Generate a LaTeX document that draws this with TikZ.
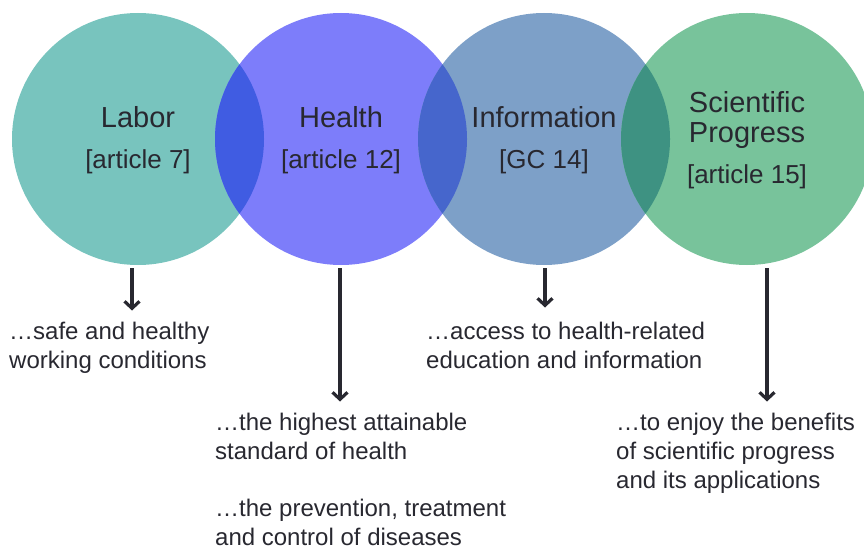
\documentclass[tikz,border=0pt]{standalone}
\usepackage{fontspec}
\setmainfont{Liberation Sans}
\usetikzlibrary{arrows.meta}

\definecolor{ink}{RGB}{40,40,48}
\definecolor{labor}{RGB}{120,196,190}
\definecolor{health}{RGB}{125,125,250}
\definecolor{info}{RGB}{125,160,200}
\definecolor{science}{RGB}{120,195,155}
\definecolor{laborhealth}{RGB}{64,92,226}
\definecolor{healthinfo}{RGB}{70,102,204}
\definecolor{infoscience}{RGB}{62,146,130}

\newcommand{\lens}[3] % left centre x, right centre x, colour of the overlap
{
	% clip to the left circle, fill the right one
	\begin{scope}
		\clip (#1,139) circle (126pt);
		\fill[#3] (#2,139) circle (126pt);
	\end{scope}
}

\begin{document}
\begin{tikzpicture}[x=1pt, y=-1pt,
	ring/.style={circle, minimum size=252pt, inner sep=0pt},
	head/.style={anchor=base, text=ink, font=\fontsize{29}{30}\selectfont},
	ref/.style={anchor=base, text=ink, font=\fontsize{26}{28}\selectfont},
	note/.style={anchor=north west, align=left, inner sep=0pt, text=ink, font=\fontsize{24}{29}\selectfont},
	arr/.style={draw=ink, line width=3.2pt, -{Straight Barb[length=7pt,width=15pt]}}]
	% page 864 x 548
	\useasboundingbox (0,0) rectangle (864,548);

	% the four rights
	\node[ring, fill=labor] (labor) at (138,139) {};
	\node[ring, fill=health] (health) at (341,139) {};
	\node[ring, fill=info] (info) at (544,139) {};
	\node[ring, fill=science] (science) at (747,139) {};

	\lens{138}{341}{laborhealth}
	\lens{341}{544}{healthinfo}
	\lens{544}{747}{infoscience}

	% names and references
	\node[head] (labor-t) at (138,128) {Labor};
	\node[ref] (labor-r) at (138,168) {[article 7]};
	\node[head] (health-t) at (341,128) {Health};
	\node[ref] (health-r) at (341,168) {[article 12]};
	\node[head] (info-t) at (544,128) {Information};
	\node[ref] (info-r) at (544,168) {[GC 14]};
	\node[head] (science-t1) at (747,113) {Scientific};
	\node[head] (science-t2) at (747,143) {Progress};
	\node[ref] (science-r) at (747,183) {[article 15]};

	% what each one covers
	\node[note] (safe) at (9,321.5) {…safe and healthy\\working conditions};
	\node[note] (highest) at (215,412.5) {…the highest attainable\\standard of health};
	\node[note] (prevent) at (215,499) {…the prevention, treatment\\and control of diseases};
	\node[note] (access) at (426,321.5) {…access to health-related\\education and information};
	\node[note] (enjoy) at (616,412.5) {…to enjoy the benefits\\of scientific progress\\and its applications};

	\draw[arr, shorten <=3pt, shorten >=11pt] ([xshift=-6pt]labor.south) -- ([xshift=-6pt]labor.south |- safe.north);
	\draw[arr, shorten <=3pt, shorten >=11pt] ([xshift=-1pt]health.south) -- ([xshift=-1pt]health.south |- highest.north);
	\draw[arr, shorten <=3pt, shorten >=14pt] ([xshift=1pt]info.south) -- ([xshift=1pt]info.south |- access.north);
	\draw[arr, shorten <=3pt, shorten >=11pt] ([xshift=20pt]science.south) -- ([xshift=20pt]science.south |- enjoy.north);
\end{tikzpicture}
\end{document}
